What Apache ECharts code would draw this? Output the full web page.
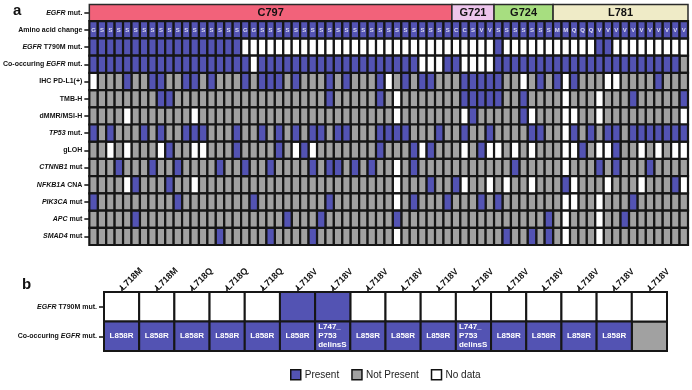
<!DOCTYPE html>
<html><head><meta charset="utf-8">
<script src="https://cdn.jsdelivr.net/npm/echarts@6/dist/echarts.min.js"></script>
<style>html,body{margin:0;padding:0;background:#fff}#c{width:692px;height:390px}</style>
</head><body><div id="c"></div>
<script>
// ---------- data ----------
const rowLabels = ['EGFR mut.', 'Amino acid change', 'EGFR T790M mut.', 'Co-occuring EGFR mut.', 'IHC PD-L1(+)', 'TMB-H', 'dMMR/MSI-H', 'TP53 mut.', 'gLOH', 'CTNNB1 mut', 'NFKB1A CNA', 'PIK3CA mut', 'APC mut', 'SMAD4 mut'];
const italicWords = ['EGFR', 'TP53', 'CTNNB1', 'NFKB1A', 'PIK3CA', 'APC', 'SMAD4'];
const headerNames = ['C797', 'G721', 'G724', 'L781'];
const headerStart = [1, 44, 49, 56];
const headerEnd = [43, 48, 55, 71];
const aminoChange = ['G','S','S','S','S','S','S','S','S','S','S','S','S','S','S','S','S','S',
  'G','G',
  'S','S','S','S','S','S','S','S','S','S','S','S','S','S','S','S','S','S','S','S','S','S','S',
  'C','C','S','V','V',
  'S','S','S','S','S','S','S',
  'M','M','Q','Q','Q',
  'V','V','V','V','V','V','V','V','V','V','V'];
// 1 = Present, 0 = Not Present, -1 = No data
const t790m = [1,1,1,1,1,1,1,1,1,1, 1,1,1,1,1,1,1,1,-1,-1, -1,-1,-1,-1,-1,-1,-1,-1,-1,-1, -1,-1,-1,-1,-1,-1,-1,-1,-1,-1, -1,-1,-1,-1,-1,-1,-1,-1,1,-1, -1,-1,-1,-1,-1,-1,-1,-1,-1,-1, 1,1,-1,-1,-1,-1,-1,-1,-1,-1, -1];
const coEgfr = [1,1,1,1,1,1,1,1,1,1, 1,1,1,1,1,1,1,1,1,-1, 1,1,1,1,1,1,1,1,1,1, 1,1,1,1,1,1,1,1,1,-1, -1,-1,1,1,-1,-1,-1,-1,1,1, 1,1,1,1,1,1,1,1,1,1, 1,1,1,1,1,1,1,1,1,1, 0];
const ihcPdl1 = [-1,0,0,0,1,0,0,1,1,0, 0,1,1,0,1,0,0,0,1,0, 1,1,1,0,1,0,0,0,1,0, 1,0,0,0,1,-1,0,1,0,1, 1,0,0,0,1,1,1,1,1,0, 0,-1,0,1,0,1,-1,1,0,0, 0,-1,-1,0,0,0,0,1,0,0, 0];
const tmbH = [0,0,0,0,0,0,0,0,1,1, 0,0,0,0,0,0,0,0,0,0, 0,0,0,0,0,0,0,0,1,0, 0,0,0,0,1,0,-1,0,0,0, 0,0,0,0,1,1,1,1,1,0, 0,1,0,0,0,0,-1,0,0,0, -1,0,0,0,1,0,0,0,0,0, 1];
const dmmr = [0,0,0,0,-1,0,0,0,0,0, 0,0,-1,0,0,0,0,0,0,0, 0,0,0,0,0,0,0,0,0,0, 0,0,0,0,0,0,-1,0,0,0, 0,0,0,0,-1,1,0,0,0,0, 0,1,-1,0,0,0,-1,-1,0,0, -1,0,0,0,0,0,0,0,0,0, -1];
const tp53 = [1,0,1,0,0,0,1,0,1,0, 0,1,1,1,0,0,0,1,0,0, 1,0,1,0,1,0,1,1,0,1, 1,0,0,0,1,1,1,1,0,0, 0,1,0,0,1,0,0,1,0,0, 0,0,1,1,0,0,-1,1,0,1, 0,1,1,0,1,1,1,1,1,1, 1];
const gloh = [0,0,-1,0,-1,0,0,0,-1,1, 0,0,-1,-1,0,0,0,1,0,0, 0,0,1,0,-1,1,-1,0,0,0, 0,0,0,0,1,0,0,0,1,-1, 1,0,0,0,-1,0,1,-1,-1,0, -1,0,-1,0,0,0,-1,-1,1,0, -1,-1,1,0,0,-1,0,-1,0,-1, -1];
const ctnnb1 = [0,0,0,1,0,0,0,1,0,0, 1,0,0,0,0,1,0,0,1,0, 0,1,0,0,0,0,1,0,1,1, 0,1,0,1,0,0,-1,0,1,0, 0,0,0,0,0,0,0,0,0,0, 1,0,0,0,0,0,-1,0,0,0, 1,0,1,0,0,0,1,0,0,0, 0];
const nfkb1a = [0,0,0,0,-1,1,0,0,0,1, 0,0,-1,0,0,0,0,0,0,0, 0,0,0,0,0,0,0,0,0,0, 0,0,0,0,0,0,-1,0,0,0, 1,0,0,1,-1,0,0,-1,0,-1, 0,0,-1,0,0,0,1,-1,0,0, 0,-1,0,0,0,-1,0,0,0,1, -1];
const pik3ca = [1,0,0,0,0,0,0,0,0,0, 1,0,0,0,0,0,0,0,0,1, 0,0,0,0,0,0,0,0,1,0, 0,0,0,0,0,0,-1,0,1,0, 0,0,1,0,0,0,1,0,1,0, 0,0,0,0,0,0,-1,-1,0,0, -1,0,0,0,1,0,0,0,0,0, 0];
const apc = [0,0,0,0,0,1,0,0,0,0, 0,0,0,0,0,0,0,0,0,0, 0,0,0,1,0,0,0,1,0,0, 0,0,0,0,0,0,1,0,0,0, 0,0,0,0,0,0,0,0,0,0, 0,0,0,0,1,0,-1,0,0,0, -1,0,0,1,0,0,0,0,0,0, 0];
const smad4 = [0,0,0,0,0,0,0,0,0,0, 0,0,0,0,0,1,0,0,0,0, 0,1,0,0,0,0,1,0,0,0, 0,0,0,0,0,0,-1,0,0,0, 0,0,0,0,0,0,0,0,0,1, 0,0,1,0,1,0,-1,0,0,0, -1,0,0,0,0,0,0,0,0,0, 0];
// part b
const bCats = ['L718M','L718M','L718Q','L718Q','L718Q','L718V','L718V','L718V','L718V','L718V','L718V','L718V','L718V','L718V','L718V','L718V'];
const bRowLabels = ['EGFR T790M mut.', 'Co-occuring EGFR mut.'];
const bT790m = [-1,-1,-1,-1,-1,1,1,-1,-1,-1,-1,-1,-1,-1,-1,-1];
const bCoStatus = [1,1,1,1,1,1,1,1,1,1,1,1,1,1,1,0];
const bCoText = ['L858R','L858R','L858R','L858R','L858R','L858R','L747_\nP753\ndelinsS','L858R','L858R','L858R','L747_\nP753\ndelinsS','L858R','L858R','L858R','L858R',''];
const statusNames = {'1':'Present','0':'Not Present','-1':'No data'};

// ---------- styles ----------
const FONT = 'Liberation Sans, Arial, sans-serif';
const COLORS = {'Present':'#5353b3','Not Present':'#a1a1a1','No data':'#ffffff'};
const headerColors = ['#f2627a', '#edc5ec', '#a7de80', '#efebc7'];

// ---------- build items ----------
const aRows = [t790m, coEgfr, ihcPdl1, tmbH, dmmr, tp53, gloh, ctnnb1, nfkb1a, pik3ca, apc, smad4];
const itemsA = {'Present':[], 'Not Present':[], 'No data':[]};
aminoChange.forEach((t, i) => itemsA['Present'].push({x:i, y:1, t:t}));
aRows.forEach((row, r) => row.forEach((v, i) => itemsA[statusNames[v]].push({x:i, y:r+2})));
const itemsB = {'Present':[], 'Not Present':[], 'No data':[]};
bT790m.forEach((v, i) => itemsB[statusNames[v]].push({x:i, y:0}));
bCoStatus.forEach((v, i) => itemsB[statusNames[v]].push({x:i, y:1, t:bCoText[i]}));

function cellSeries(name, items, axisIdx, lw, textMode) {
  const color = COLORS[name];
  return {
    type:'custom', name:name, xAxisIndex:axisIdx, yAxisIndex:axisIdx,
    animation:false, silent:true,
    itemStyle:{color:color, borderColor:'#111', borderWidth:1.5},
    data: items.map(d => [d.x, d.y]),
    renderItem: function(params, api) {
      const d = items[params.dataIndex];
      const p = api.coord([d.x, d.y]);
      const s = api.size([1, 1]);
      const x0 = p[0] - s[0]/2, y0 = p[1] - s[1]/2;
      const ch = [{type:'rect', shape:{x:x0, y:y0, width:s[0], height:s[1]},
        style:{fill:color, stroke:'#161616', lineWidth:lw}}];
      if (d.t) {
        if (textMode === 'a') {
          ch.push({type:'text', style:{text:d.t, x:p[0], y:p[1]+0.5, align:'center', verticalAlign:'middle',
            fill:'#dcdcf2', font:'bold 6px ' + FONT}});
        } else {
          const multi = d.t.indexOf('\n') >= 0;
          ch.push({type:'text', style:{text:d.t, x: multi ? x0 + 3 : p[0], y:p[1], align: multi ? 'left' : 'center',
            verticalAlign:'middle', fill:'#ffffff', font:'bold 8px ' + FONT, lineHeight:9}});
        }
      }
      return {type:'group', children:ch};
    }
  };
}

const headerSeries = {
  type:'custom', xAxisIndex:0, yAxisIndex:0, animation:false, silent:true,
  data: headerNames.map((n, i) => [headerStart[i]-1, 0]),
  renderItem: function(params, api) {
    const i = params.dataIndex;
    const a = api.coord([headerStart[i]-1, 0]);
    const b = api.coord([headerEnd[i]-1, 0]);
    const s = api.size([1, 1]);
    const x0 = a[0] - s[0]/2, x1 = b[0] + s[0]/2, y0 = a[1] - s[1]/2 + 0.5;
    return {type:'group', children:[
      {type:'rect', shape:{x:x0, y:y0, width:x1-x0, height:s[1]-1}, style:{fill:headerColors[i], stroke:'#2a2a2a', lineWidth:1.5}},
      {type:'text', style:{text:headerNames[i], x:(x0+x1)/2, y:a[1]+0.5, align:'center', verticalAlign:'middle', fill:'#111', font:'bold 11px ' + FONT}}
    ]};
  }
};

function richFormatter(v) {
  return v.split(' ').map(w => italicWords.indexOf(w) >= 0 ? '{i|' + w + '}' : w).join(' ');
}
const rich = {i:{fontStyle:'italic', fontWeight:'bold', fontSize:7, fontFamily:FONT, color:'#111'}};
const tickStyle = {color:'#111', width:1.5};

const option = {
  backgroundColor:'#fff',
  animation:false,
  title:[
    {text:'a', left:13, top:3, padding:0, textStyle:{fontSize:15, fontWeight:'bold', color:'#111', fontFamily:FONT}},
    {text:'b', left:22, top:277, padding:0, textStyle:{fontSize:15, fontWeight:'bold', color:'#111', fontFamily:FONT}}
  ],
  grid:[
    {left:89, top:4, width:599, height:241},
    {left:104, top:292, width:563, height:59}
  ],
  xAxis:[
    {type:'category', gridIndex:0, data: aminoChange.map((t, i) => String(i+1)), show:false},
    {type:'category', gridIndex:1, data: bCats, position:'top',
      axisLine:{show:false}, axisTick:{show:true, length:5, alignWithLabel:true, lineStyle:tickStyle},
      axisLabel:{rotate:-45, interval:0, margin:3, fontSize:9, fontWeight:'bold', color:'#111', fontFamily:FONT}}
  ],
  yAxis:[
    {type:'category', gridIndex:0, data: rowLabels, inverse:true,
      axisLine:{show:false}, axisTick:{show:true, length:5, alignWithLabel:true, lineStyle:tickStyle},
      axisLabel:{margin:7, fontSize:7, fontWeight:'bold', color:'#111', fontFamily:FONT, formatter:richFormatter, rich:rich}},
    {type:'category', gridIndex:1, data: bRowLabels, inverse:true,
      axisLine:{show:false}, axisTick:{show:true, length:5, alignWithLabel:true, lineStyle:tickStyle},
      axisLabel:{margin:7, fontSize:7, fontWeight:'bold', color:'#111', fontFamily:FONT, formatter:richFormatter, rich:rich}}
  ],
  legend:{
    data:['Present', 'Not Present', 'No data'], left:285, top:364, icon:'rect',
    itemWidth:10, itemHeight:10, itemGap:12, selectedMode:false,
    itemStyle:{borderColor:'#111', borderWidth:1.5},
    textStyle:{fontSize:10, color:'#222', fontFamily:FONT, padding:[0,0,0,-1]}
  },
  series:[
    headerSeries,
    cellSeries('Not Present', itemsA['Not Present'], 0, 2.2, 'a'),
    cellSeries('No data', itemsA['No data'], 0, 2.2, 'a'),
    cellSeries('Present', itemsA['Present'], 0, 2.2, 'a'),
    cellSeries('Not Present', itemsB['Not Present'], 1, 2, 'b'),
    cellSeries('No data', itemsB['No data'], 1, 2, 'b'),
    cellSeries('Present', itemsB['Present'], 1, 2, 'b')
  ]
};
const chart = echarts.init(document.getElementById('c'), null, {renderer:'canvas'});
chart.setOption(option);
</script>
</body></html>
